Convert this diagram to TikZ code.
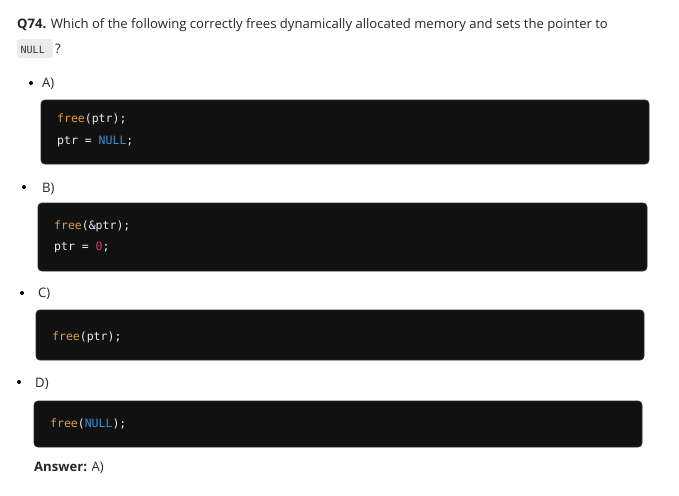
\documentclass[tikz,border=0pt]{standalone}
\usepackage{fontspec}
\setmainfont{Open Sans}
\setmonofont{DejaVu Sans Mono}
\definecolor{codebg}{HTML}{111111}
\definecolor{codeedge}{HTML}{2C2C2C}
\definecolor{codefg}{HTML}{ECECEC}
\definecolor{fnorange}{HTML}{DDA043}
\definecolor{nullblue}{HTML}{3F8ED2}
\definecolor{numpink}{HTML}{E0336E}
\definecolor{chipbg}{HTML}{EBEBEB}
\newcommand{\fn}[1]{\textcolor{fnorange}{#1}}
\newcommand{\kw}[1]{\textcolor{nullblue}{#1}}
\newcommand{\num}[1]{\textcolor{numpink}{#1}}
\begin{document}
\begin{tikzpicture}[x=1pt,y=-1pt,
    txt/.style={anchor=base west, inner sep=0pt, font=\fontsize{13.1}{15}\selectfont, text=black!85},
    code/.style={anchor=base west, inner sep=0pt, font=\fontsize{11.5}{13}\ttfamily, text=codefg},
    codebox/.style={draw=codeedge, fill=codebg, rounded corners=4pt, line width=0.8pt},
    dot/.style={circle, fill=black, inner sep=0pt, minimum size=4pt}]
    \useasboundingbox[fill=white] (0,0) rectangle (679,495);

    % question
    \node[txt] (q) at (17,29) {\textbf{Q74.} Which of the following correctly frees dynamically allocated memory and sets the pointer to};
    \fill[chipbg, rounded corners=3pt] (17,39) rectangle (53,58);
    \node[code, text=black!80, font=\fontsize{10}{12}\ttfamily] (chip) at (20.5,53) {NULL};
    \node[txt] (qm) at (55,53) {?};

    % option A
    \node[dot] (dA) at (31,83) {};
    \node[txt] (lA) at (42,87.5) {A)};
    \draw[codebox] (41,100) rectangle (649,164);
    \node[code] (a1) at (57,122) {\fn{free}(ptr);};
    \node[code] (a2) at (57,144) {ptr = \kw{NULL};};

    % option B
    \node[dot] (dB) at (24,187) {};
    \node[txt] (lB) at (42,192) {B)};
    \draw[codebox] (38,203) rectangle (647,271);
    \node[code] (b1) at (54,229.5) {\fn{free}(\&ptr);};
    \node[code] (b2) at (54,250.5) {ptr = \num{0};};

    % option C
    \node[dot] (dC) at (22,293) {};
    \node[txt] (lC) at (38,297.5) {C)};
    \draw[codebox] (36,310) rectangle (644,360);
    \node[code] (c1) at (52,340.5) {\fn{free}(ptr);};

    % option D
    \node[dot] (dD) at (19,382) {};
    \node[txt] (lD) at (35,387) {D)};
    \draw[codebox] (34,401) rectangle (642,447);
    \node[code] (d1) at (50,427) {\fn{free}(\kw{NULL});};

    \node[txt] (ans) at (34,471) {\textbf{Answer:} A)};
\end{tikzpicture}
\end{document}
